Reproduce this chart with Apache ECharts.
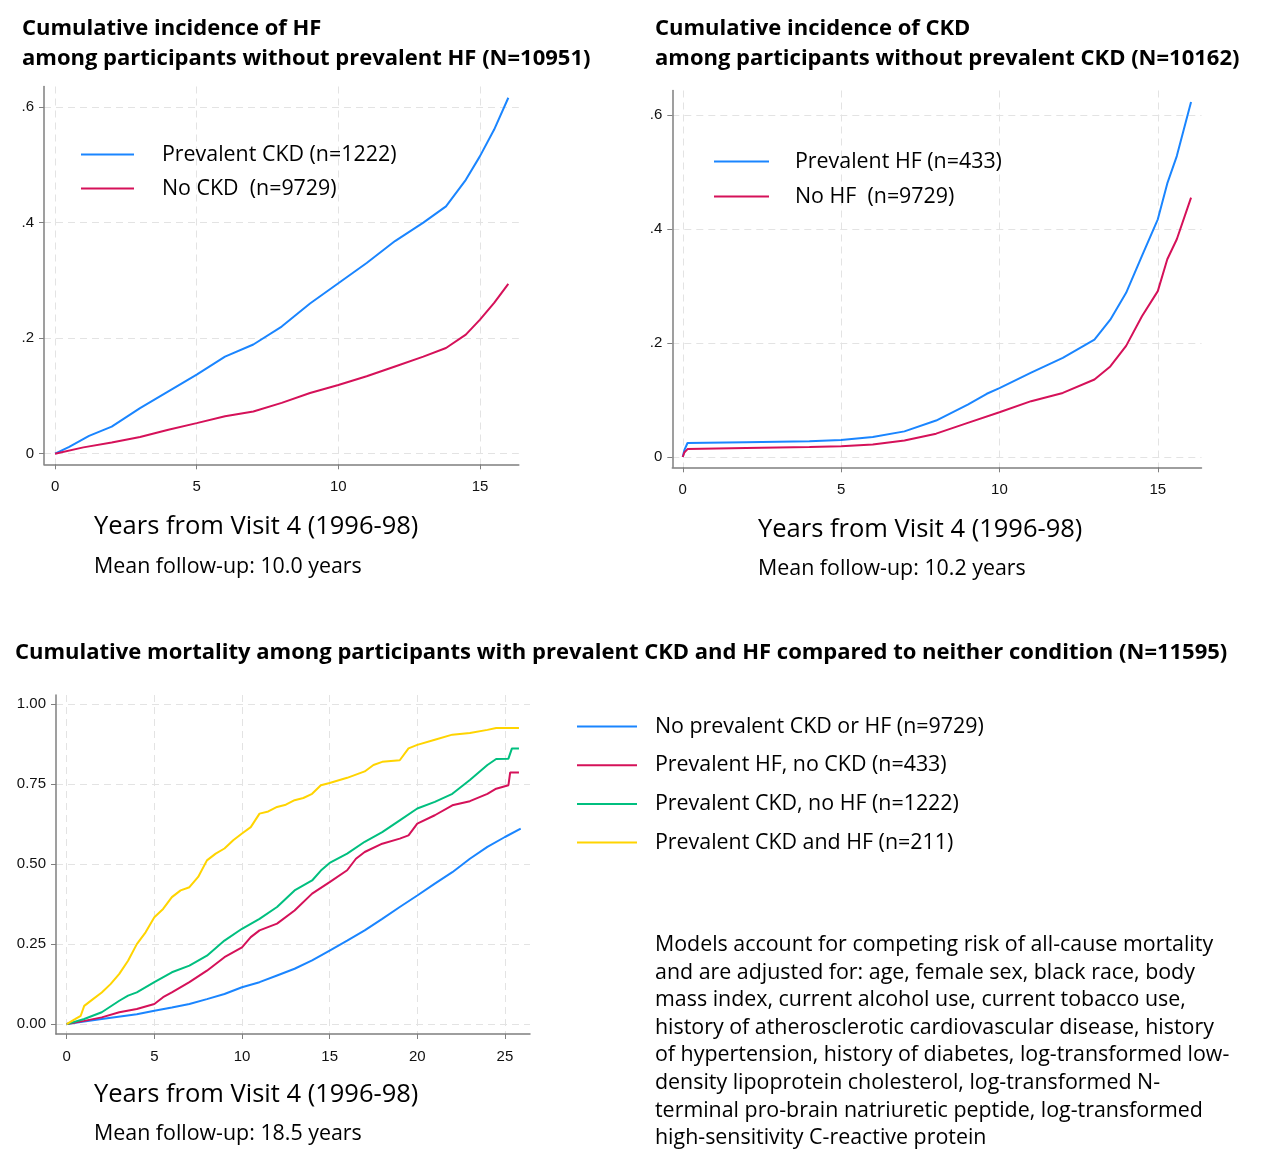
<!DOCTYPE html>
<html><head><meta charset="utf-8">
<script src="https://cdn.jsdelivr.net/npm/echarts@6/dist/echarts.min.js"></script>
<style>html,body{margin:0;padding:0;background:#fff}#c{width:1268px;height:1170px}</style>
</head><body><div id="c"></div>
<script>
// ---------- Panel A: HF incidence ----------
const hfCkdName = 'Prevalent CKD (n=1222)';
const hfNoCkdName = 'No CKD  (n=9729)';
const hfCkd = [[0,0],[0.5,0.012],[1.2,0.031],[2,0.047],[3,0.079],[4,0.108],[5,0.137],[6,0.168],[7,0.189],[8,0.22],[9,0.26],[10,0.295],[11,0.33],[12,0.368],[13,0.40],[13.8,0.428],[14.5,0.474],[15,0.515],[15.5,0.561],[16,0.616]];
const hfNoCkd = [[0,0],[1,0.011],[2,0.0196],[3,0.029],[4,0.0415],[5,0.053],[6,0.065],[7,0.073],[8,0.088],[9,0.105],[10,0.119],[11,0.134],[12,0.151],[13,0.168],[13.8,0.183],[14.5,0.206],[15,0.232],[15.5,0.261],[16,0.294]];
// ---------- Panel B: CKD incidence ----------
const ckdHfName = 'Prevalent HF (n=433)';
const ckdNoHfName = 'No HF  (n=9729)';
const ckdHf = [[0,0],[0.05,0.012],[0.15,0.0246],[2,0.026],[4,0.0275],[5,0.030],[6,0.035],[7,0.045],[8,0.064],[9,0.092],[9.6,0.111],[10,0.121],[11,0.148],[12,0.174],[13,0.206],[13.5,0.241],[14,0.288],[14.5,0.353],[15,0.417],[15.3,0.48],[15.6,0.528],[16.05,0.623]];
const ckdNoHf = [[0,0],[0.05,0.008],[0.15,0.014],[2,0.016],[4,0.0176],[5,0.019],[6,0.022],[7,0.029],[8,0.041],[9,0.060],[10,0.0785],[11,0.098],[12,0.1125],[13,0.136],[13.5,0.159],[14,0.195],[14.5,0.247],[15,0.291],[15.3,0.347],[15.6,0.382],[16.05,0.455]];
// ---------- Panel C: mortality ----------
const mortNames = ['No prevalent CKD or HF (n=9729)','Prevalent HF, no CKD (n=433)','Prevalent CKD, no HF (n=1222)','Prevalent CKD and HF (n=211)'];
const mortNeither = [[0,0],[2,0.016],[4,0.031],[5,0.042],[6,0.052],[7,0.063],[8,0.078],[9,0.094],[10,0.115],[11,0.131],[12,0.152],[13,0.173],[14,0.199],[15,0.23],[16,0.261],[17,0.293],[18,0.329],[19,0.366],[20,0.402],[21,0.439],[22,0.475],[23,0.517],[24,0.554],[25,0.585],[25.9,0.611]];
const mortHfOnly = [[0,0],[1,0.010],[2,0.021],[3,0.037],[4,0.047],[5,0.063],[5.5,0.084],[6,0.099],[7,0.131],[8,0.167],[9,0.209],[10,0.24],[10.5,0.272],[11,0.293],[12,0.314],[13,0.355],[14,0.408],[15,0.444],[16,0.481],[16.5,0.517],[17,0.538],[18,0.564],[19,0.58],[19.5,0.59],[20,0.627],[21,0.653],[22,0.684],[23,0.697],[24,0.72],[24.5,0.736],[25.2,0.747],[25.3,0.787],[25.8,0.787]];
const mortCkdOnly = [[0,0],[1,0.016],[2,0.037],[3,0.073],[3.5,0.089],[4,0.099],[5,0.131],[6,0.162],[7,0.183],[8,0.214],[9,0.261],[10,0.298],[11,0.329],[12,0.366],[13,0.418],[14,0.449],[14.5,0.48],[15,0.504],[16,0.533],[17,0.57],[18,0.60],[19,0.637],[20,0.674],[21,0.695],[22,0.72],[23,0.763],[24,0.81],[24.5,0.829],[25.2,0.83],[25.4,0.862],[25.8,0.862]];
const mortBoth = [[0,0],[0.5,0.016],[0.8,0.026],[1,0.057],[1.5,0.078],[2,0.099],[2.5,0.125],[3,0.157],[3.5,0.198],[4,0.25],[4.5,0.287],[5,0.334],[5.5,0.36],[6,0.397],[6.5,0.418],[7,0.428],[7.5,0.46],[8,0.512],[8.5,0.533],[9,0.549],[9.5,0.575],[10,0.596],[10.5,0.616],[11,0.658],[11.5,0.665],[12,0.679],[12.5,0.686],[13,0.70],[13.5,0.707],[14,0.72],[14.5,0.747],[15,0.754],[16,0.77],[17,0.79],[17.5,0.81],[18,0.82],[19,0.825],[19.5,0.862],[20,0.873],[21,0.889],[22,0.905],[23,0.91],[24,0.92],[24.5,0.926],[25.8,0.926]];
// ---------- Tick labels ----------
const xTicksAB = [0,5,10,15];
const xTicksC = [0,5,10,15,20,25];
const yTicksAB = [0,0.2,0.4,0.6];
const yLabelsAB = ['0','.2','.4','.6'];
const yTicksC = [0,0.25,0.5,0.75,1];
const yLabelsC = ['0.00','0.25','0.50','0.75','1.00'];
// ---------- Texts ----------
const titleA = ['Cumulative incidence of HF','among participants without prevalent HF (N=10951)'];
const titleB = ['Cumulative incidence of CKD','among participants without prevalent CKD (N=10162)'];
const titleC = 'Cumulative mortality among participants with prevalent CKD and HF compared to neither condition (N=11595)';
const xName = 'Years from Visit 4 (1996-98)';
const followA = 'Mean follow-up: 10.0 years';
const followB = 'Mean follow-up: 10.2 years';
const followC = 'Mean follow-up: 18.5 years';
const note = ['Models account for competing risk of all-cause mortality','and are adjusted for: age, female sex, black race, body','mass index, current alcohol use, current tobacco use,','history of atherosclerotic cardiovascular disease, history','of hypertension, history of diabetes, log-transformed low-','density lipoprotein cholesterol, log-transformed N-','terminal pro-brain natriuretic peptide, log-transformed','high-sensitivity C-reactive protein'];

const C_BLUE='#1a85ff', C_RED='#d51159', C_GREEN='#00bf7f', C_YEL='#ffd400';
const FONT='Open Sans';
const AX='#7f7f7f';

function xAxisCfg(g,min,max,ticks){
  return {gridIndex:g,type:'value',min:min,max:max,
    axisLine:{show:true,onZero:false,lineStyle:{color:AX,width:1.5}},
    axisTick:{show:true,length:5,customValues:ticks,lineStyle:{color:AX,width:1}},
    axisLabel:{customValues:ticks,fontSize:15,color:'#111',fontFamily:'Liberation Sans',margin:15},
    splitLine:{show:true,lineStyle:{type:[7,5],color:'#e3e3e3',width:1}}};
}
function yAxisCfg(g,min,max,ticks,labels){
  return {gridIndex:g,type:'value',min:min,max:max,
    axisLine:{show:true,onZero:false,lineStyle:{color:AX,width:1.5}},
    axisTick:{show:true,length:5,customValues:ticks,lineStyle:{color:AX,width:1}},
    axisLabel:{customValues:ticks,fontSize:15,color:'#111',fontFamily:'Liberation Sans',margin:10,
      formatter:function(v){const i=ticks.findIndex(t=>Math.abs(t-v)<1e-9);return i>=0?labels[i]:'';}},
    splitLine:{show:true,lineStyle:{type:[7,5],color:'#e3e3e3',width:1}}};
}
function line(name,data,color,xi,yi){
  return {type:'line',name:name,data:data,xAxisIndex:xi,yAxisIndex:yi,symbol:'none',
    lineStyle:{color:color,width:2},itemStyle:{color:color},z:3};
}
function txt(s,x,y,size,weight){
  return {type:'text',x:x,y:y,style:{text:s,fill:'#000',fontSize:size,fontFamily:FONT,fontWeight:weight||'normal',verticalAlign:'middle',align:'left'}};
}
const graphics=[];
graphics.push(txt(titleA[0],22,29,22,'bold'));
graphics.push(txt(titleA[1],22,59,22,'bold'));
graphics.push(txt(titleB[0],655,29,22,'bold'));
graphics.push(txt(titleB[1],655,59,22,'bold'));
graphics.push(txt(titleC,15,653,22,'bold'));
graphics.push(txt(xName,94,527,25.5));
graphics.push(txt(followA,94,567,21.4));
graphics.push(txt(xName,758,530,25.5));
graphics.push(txt(followB,758,569,21.4));
graphics.push(txt(xName,94,1095,25.5));
graphics.push(txt(followC,94,1134,21.4));
note.forEach((s,i)=>graphics.push(txt(s,655,945+i*27.6,21.4)));

function legendCfg(names,left,top,w,gap,pad){
  return {data:names.map(n=>({name:n,icon:'rect'})),orient:'vertical',left:left,top:top,padding:0,itemWidth:w,itemHeight:2,itemGap:gap,
    textStyle:{fontSize:21.4,lineHeight:20,fontFamily:FONT,color:'#000',padding:[0,0,0,pad]},
    selectedMode:false};
}

const chart=echarts.init(document.getElementById('c'),null,{renderer:'canvas'});
chart.setOption({
  animation:false,
  backgroundColor:'#fff',
  grid:[
    {left:44,top:86.5,width:474.8,height:377.8},
    {left:672.3,top:90.5,width:529.2,height:376.8},
    {left:56,top:695,width:474,height:339}
  ],
  xAxis:[xAxisCfg(0,-0.39,16.37,xTicksAB),xAxisCfg(1,-0.33,16.38,xTicksAB),xAxisCfg(2,-0.61,26.43,xTicksC)],
  yAxis:[yAxisCfg(0,-0.0183,0.6355,yTicksAB,yLabelsAB),yAxisCfg(1,-0.018,0.643,yTicksAB,yLabelsAB),yAxisCfg(2,-0.031,1.029,yTicksC,yLabelsC)],
  legend:[
    legendCfg([hfCkdName,hfNoCkdName],81,144,53,13,23),
    legendCfg([ckdHfName,ckdNoHfName],714,151,55,14,21),
    legendCfg(mortNames,577,716,60,17.7,13)
  ],
  series:[
    line(hfCkdName,hfCkd,C_BLUE,0,0),
    line(hfNoCkdName,hfNoCkd,C_RED,0,0),
    line(ckdHfName,ckdHf,C_BLUE,1,1),
    line(ckdNoHfName,ckdNoHf,C_RED,1,1),
    line(mortNames[0],mortNeither,C_BLUE,2,2),
    line(mortNames[1],mortHfOnly,C_RED,2,2),
    line(mortNames[2],mortCkdOnly,C_GREEN,2,2),
    line(mortNames[3],mortBoth,C_YEL,2,2)
  ],
  graphic:graphics
});
</script></body></html>
